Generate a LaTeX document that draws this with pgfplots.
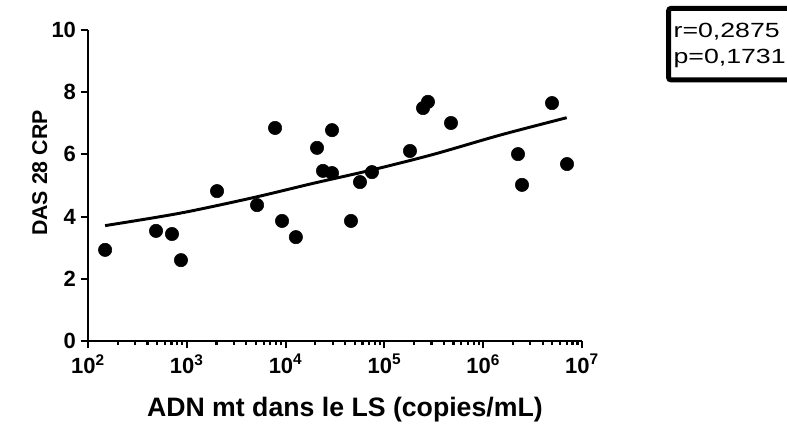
\documentclass[border=0pt]{standalone}
\usepackage{fontspec}
\setmainfont{Liberation Sans}
\usepackage{graphicx}
\usepackage{pgfplots}
\pgfplotsset{compat=1.18}
\usepackage{pgfplotstable}

\pgfplotstableread{
x y
149 2.93
488 3.54
708 3.44
873 2.60
2023 4.82
5140 4.37
7820 6.85
9200 3.86
12700 3.34
20800 6.21
23900 5.47
29500 6.78
29500 5.40
45900 3.86
56600 5.11
74800 5.43
181500 6.11
246000 7.49
276000 7.69
472000 7.01
2250000 6.01
2470000 5.02
4970000 7.65
7050000 5.69
}\points

\pgfplotstableread{
x y
149 3.71
853 4.11
4710 4.61
19050 5.07
74800 5.50
312600 6.00
1480000 6.62
7000000 7.18
}\fit

\newcommand{\tl}{\fontsize{16.5pt}{19pt}\selectfont\bfseries}
\newcommand{\xt}[1]{\tl 10\textsuperscript{#1}}

\begin{document}
\begin{tikzpicture}
\begin{axis}[
  at={(0,0)}, anchor=south west,
  scale only axis,
  width=370.5pt, height=233.25pt,
  xmode=log,
  xmin=1e2, xmax=1e7,
  ymin=0, ymax=10,
  axis lines=left,
  axis line style={-, line width=2pt},
  tick align=outside,
  major tick length=5.5pt,
  minor tick length=3pt,
  every tick/.style={line width=1.6pt, black},
  xtick={1e2,1e3,1e4,1e5,1e6,1e7},
  xticklabels={\xt{2},\xt{3},\xt{4},\xt{5},\xt{6},\xt{7}},
  ytick={0,2,4,6,8,10},
  yticklabels={{\tl 0},{\tl 2},{\tl 4},{\tl 6},{\tl 8},{\tl 10}},
  minor ytick={},
  xticklabel style={yshift=-1pt},
  clip=false,
  xlabel={\fontsize{20pt}{23pt}\selectfont\bfseries ADN mt dans le LS (copies/mL)},
  ylabel={\fontsize{16pt}{19pt}\selectfont\bfseries DAS 28 CRP},
  every axis x label/.style={at={(axis description cs:0.520,-0.2434)}, anchor=base},
  every axis y label/.style={at={(axis description cs:-0.083,0.54)}, anchor=base, rotate=90},
]
\addplot[only marks, mark=*, mark size=5pt, black] table[x=x,y=y] {\points};
\addplot[black, line width=2.2pt, smooth, no marks] table[x=x,y=y] {\fit};
\end{axis}
\draw[line width=3.75pt, rounded corners=2pt] (435.4pt,249.5pt) rectangle (545pt,195.75pt);
\node[anchor=base west, inner sep=0pt] at (439pt,227.8pt) {\scalebox{1.3}[1]{\fontsize{15.4pt}{17pt}\selectfont r=0,2875}};
\node[anchor=base west, inner sep=0pt] at (439pt,207.75pt) {\scalebox{1.3}[1]{\fontsize{15.4pt}{17pt}\selectfont p=0,1731}};
\pgfresetboundingbox
\path[use as bounding box] (-66pt,-62.25pt) rectangle (524.25pt,255.75pt);
\end{tikzpicture}
\end{document}
